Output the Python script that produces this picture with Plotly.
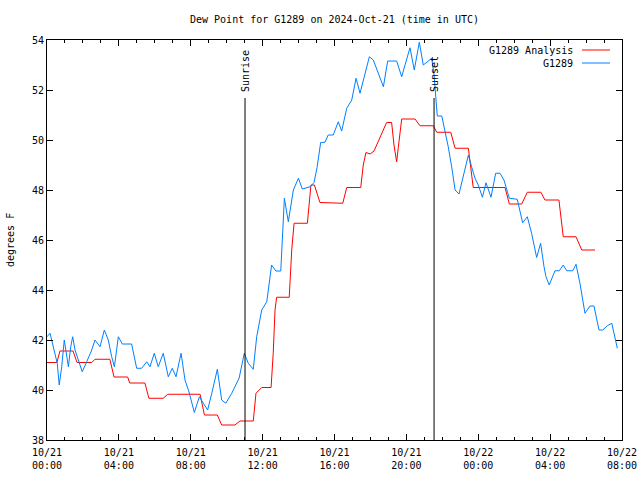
import pandas as pd
import plotly.graph_objects as go

# ---- data (hours since 2024-10-21 00:00 UTC, dew point in degrees F) ----
start = pd.Timestamp("2024-10-21 00:00")

obs_hours = [0.00, 0.17, 0.26, 0.45, 0.57, 0.68, 0.82, 0.96, 1.06, 1.19, 1.32, 1.43, 1.56, 1.74,
             1.96, 2.21, 2.49, 2.67, 2.85, 2.95, 3.19, 3.41, 3.60, 3.75, 3.97, 4.19, 4.71, 4.99,
             5.27, 5.55, 5.73, 5.97, 6.19, 6.47, 6.75, 6.97, 7.18, 7.46, 7.68, 7.90, 8.20, 8.48,
             8.70, 8.94, 9.17, 9.48, 9.72, 9.95, 10.28, 10.69, 10.98, 11.20, 11.48, 11.67, 11.95,
             12.23, 12.50, 12.74, 13.01, 13.21, 13.43, 13.71, 13.99, 14.21, 14.64, 14.86, 15.03,
             15.23, 15.47, 15.65, 15.93, 16.21, 16.40, 16.68, 16.96, 17.20, 17.42, 17.94, 18.16,
             18.72, 18.96, 19.46, 19.74, 20.20, 20.44, 20.72, 20.94, 21.41, 21.54, 21.65, 21.72,
             21.97, 22.15, 22.33, 22.52, 22.71, 22.93, 23.17, 23.45, 23.63, 23.82, 24.00, 24.23,
             24.43, 24.71, 24.97, 25.21, 25.43, 25.73, 26.17, 26.47, 26.73, 26.97, 27.25, 27.47,
             27.66, 27.77, 27.95, 28.27, 28.51, 28.73, 28.92, 29.26, 29.44, 29.66, 29.94, 30.22,
             30.44, 30.72, 30.93, 31.18, 31.43, 31.61, 31.74]
obs_dewpt = [42.13, 42.27, 42.00, 41.47, 41.07, 40.20, 40.93, 42.00, 41.60, 40.93, 41.73, 42.13,
             41.60, 41.20, 40.73, 41.13, 41.60, 42.00, 41.80, 41.73, 42.40, 42.00, 41.33, 40.93,
             42.13, 41.84, 41.84, 40.87, 40.87, 41.13, 40.93, 41.47, 40.93, 41.47, 40.53, 40.87,
             40.53, 41.47, 40.40, 39.93, 39.10, 39.73, 39.47, 39.20, 39.87, 40.83, 39.60, 39.47,
             39.87, 40.47, 41.47, 41.07, 40.83, 42.13, 43.20, 43.53, 45.00, 44.76, 44.76, 47.67,
             46.73, 48.00, 48.47, 48.04, 48.13, 48.30, 48.90, 49.90, 49.91, 50.20, 50.20, 50.73,
             50.36, 51.27, 51.60, 52.47, 51.87, 53.33, 53.20, 52.13, 53.16, 53.16, 52.53, 53.69,
             52.80, 53.91, 53.00, 53.27, 52.60, 51.30, 50.96, 50.96, 50.40, 49.73, 48.93, 48.00,
             47.84, 48.53, 49.40, 48.93, 48.47, 48.20, 47.71, 48.29, 47.71, 48.67, 48.67, 48.40,
             47.67, 47.63, 46.69, 46.93, 46.27, 45.30, 45.87, 44.93, 44.53, 44.20, 44.77, 44.77,
             45.00, 44.77, 44.77, 45.03, 44.27, 43.07, 43.36, 43.36, 42.40, 42.40, 42.57, 42.67,
             42.00, 41.67]

ana_hours = [0.00, 0.55, 0.72, 1.45, 1.67, 2.49, 2.67, 3.50, 3.73, 4.49, 4.60, 5.45, 5.67, 6.47,
             6.72, 8.52, 8.76, 9.48, 9.72, 10.46, 10.74, 11.48, 11.63, 11.95, 12.47, 12.59, 12.69,
             12.78, 13.48, 13.62, 13.75, 14.49, 14.69, 14.88, 15.19, 16.46, 16.68, 17.46, 17.60,
             17.75, 17.98, 18.20, 18.90, 19.18, 19.31, 19.46, 19.55, 19.65, 19.74, 20.48, 20.76,
             21.50, 21.69, 22.47, 22.71, 23.45, 23.58, 23.72, 25.49, 25.73, 26.42, 26.73, 27.49,
             27.71, 28.49, 28.73, 29.44, 29.76, 30.50]
ana_dewpt = [41.10, 41.10, 41.56, 41.56, 41.10, 41.10, 41.23, 41.23, 40.52, 40.52, 40.28, 40.28,
             39.67, 39.67, 39.83, 39.83, 39.00, 39.00, 38.60, 38.60, 38.76, 38.76, 39.87, 40.10,
             40.10, 41.47, 43.20, 43.71, 43.71, 45.60, 46.67, 46.67, 48.20, 48.20, 47.50, 47.47,
             48.10, 48.10, 49.00, 49.50, 49.44, 49.56, 50.70, 50.70, 49.80, 49.13, 49.70, 50.33,
             50.84, 50.84, 50.57, 50.57, 50.31, 50.31, 49.67, 49.67, 48.93, 48.10, 48.10, 47.44,
             47.44, 47.91, 47.91, 47.60, 47.60, 46.13, 46.13, 45.60, 45.60]

sunrise_hour = 11.02
sunset_hour = 21.54
marker_top = 51.68

series_names = ["G1289 Analysis", "G1289"]
series_colors = ["#ff0000", "#0080ff"]

to_time = lambda hrs: start + pd.to_timedelta(hrs, unit="h")

FONT = "DejaVu Sans Mono"

fig = go.Figure()
fig.add_trace(go.Scatter(x=to_time(ana_hours), y=ana_dewpt, mode="lines",
                         line=dict(color=series_colors[0], width=1), name=series_names[0]))
fig.add_trace(go.Scatter(x=to_time(obs_hours), y=obs_dewpt, mode="lines",
                         line=dict(color=series_colors[1], width=1), name=series_names[1]))

for hr, label in [(sunrise_hour, "Sunrise"), (sunset_hour, "Sunset")]:
    t = to_time(hr)
    fig.add_shape(type="line", x0=t, x1=t, y0=38, y1=marker_top, xref="x", yref="y",
                  line=dict(color="black", width=1))
    fig.add_annotation(x=t, y=marker_top, xref="x", yref="y", text=label, textangle=-90,
                       showarrow=False, xanchor="center", yanchor="bottom", yshift=4,
                       font=dict(family=FONT, size=10, color="black"))

# gnuplot-style legend: text on the left, sample line on the right
plot_l, plot_w, plot_t, plot_h = 47, 575, 40, 400
def px(xp):
    return (xp - plot_l) / plot_w
def py(yp):
    return 1 - (yp - plot_t) / plot_h
for i, (nm, col) in enumerate(zip(series_names, series_colors)):
    yp = 50 + 13 * i
    fig.add_annotation(x=px(575), y=py(yp), xref="paper", yref="paper", text=nm,
                       showarrow=False, xanchor="right", yanchor="middle",
                       font=dict(family=FONT, size=10, color="black"))
    fig.add_shape(type="line", x0=px(582), x1=px(610), y0=py(yp), y1=py(yp),
                  xref="paper", yref="paper", line=dict(color=col, width=1))

fig.add_annotation(x=px(10), y=0.5, xref="paper", yref="paper", text="degrees F",
                   textangle=-90, showarrow=False, xanchor="center", yanchor="middle",
                   font=dict(family=FONT, size=10, color="black"))

fig.update_layout(
    width=640, height=480,
    margin=dict(l=47, r=18, t=40, b=40, autoexpand=False),
    paper_bgcolor="white", plot_bgcolor="white",
    showlegend=False,
    title=dict(text="Dew Point for G1289 on 2024-Oct-21 (time in UTC)", x=(334.5 / 640),
               xanchor="center", y=1 - 19 / 480, yanchor="middle", yref="container",
               font=dict(family=FONT, size=10, color="black")),
    font=dict(family=FONT, size=10, color="black"),
)
fig.update_xaxes(
    range=[start, to_time(32)], type="date", automargin=False,
    tick0=start, dtick=4 * 3600000, tickformat="%m/%d<br>%H:%M",
    ticks="inside", ticklen=6, tickcolor="black", showline=True, linecolor="black",
    mirror="ticks", showgrid=False, zeroline=False, ticklabelstandoff=3,
    minor=dict(dtick=3600000, ticks="inside", ticklen=3, tickcolor="black", showgrid=False),
    tickfont=dict(family=FONT, size=10),
)
fig.update_yaxes(
    range=[38, 54], dtick=2, ticks="inside", ticklen=6, tickcolor="black", automargin=False,
    showline=True, linecolor="black", mirror="ticks", showgrid=False, zeroline=False,
    tickfont=dict(family=FONT, size=10),
)

fig.write_html("out.html")
